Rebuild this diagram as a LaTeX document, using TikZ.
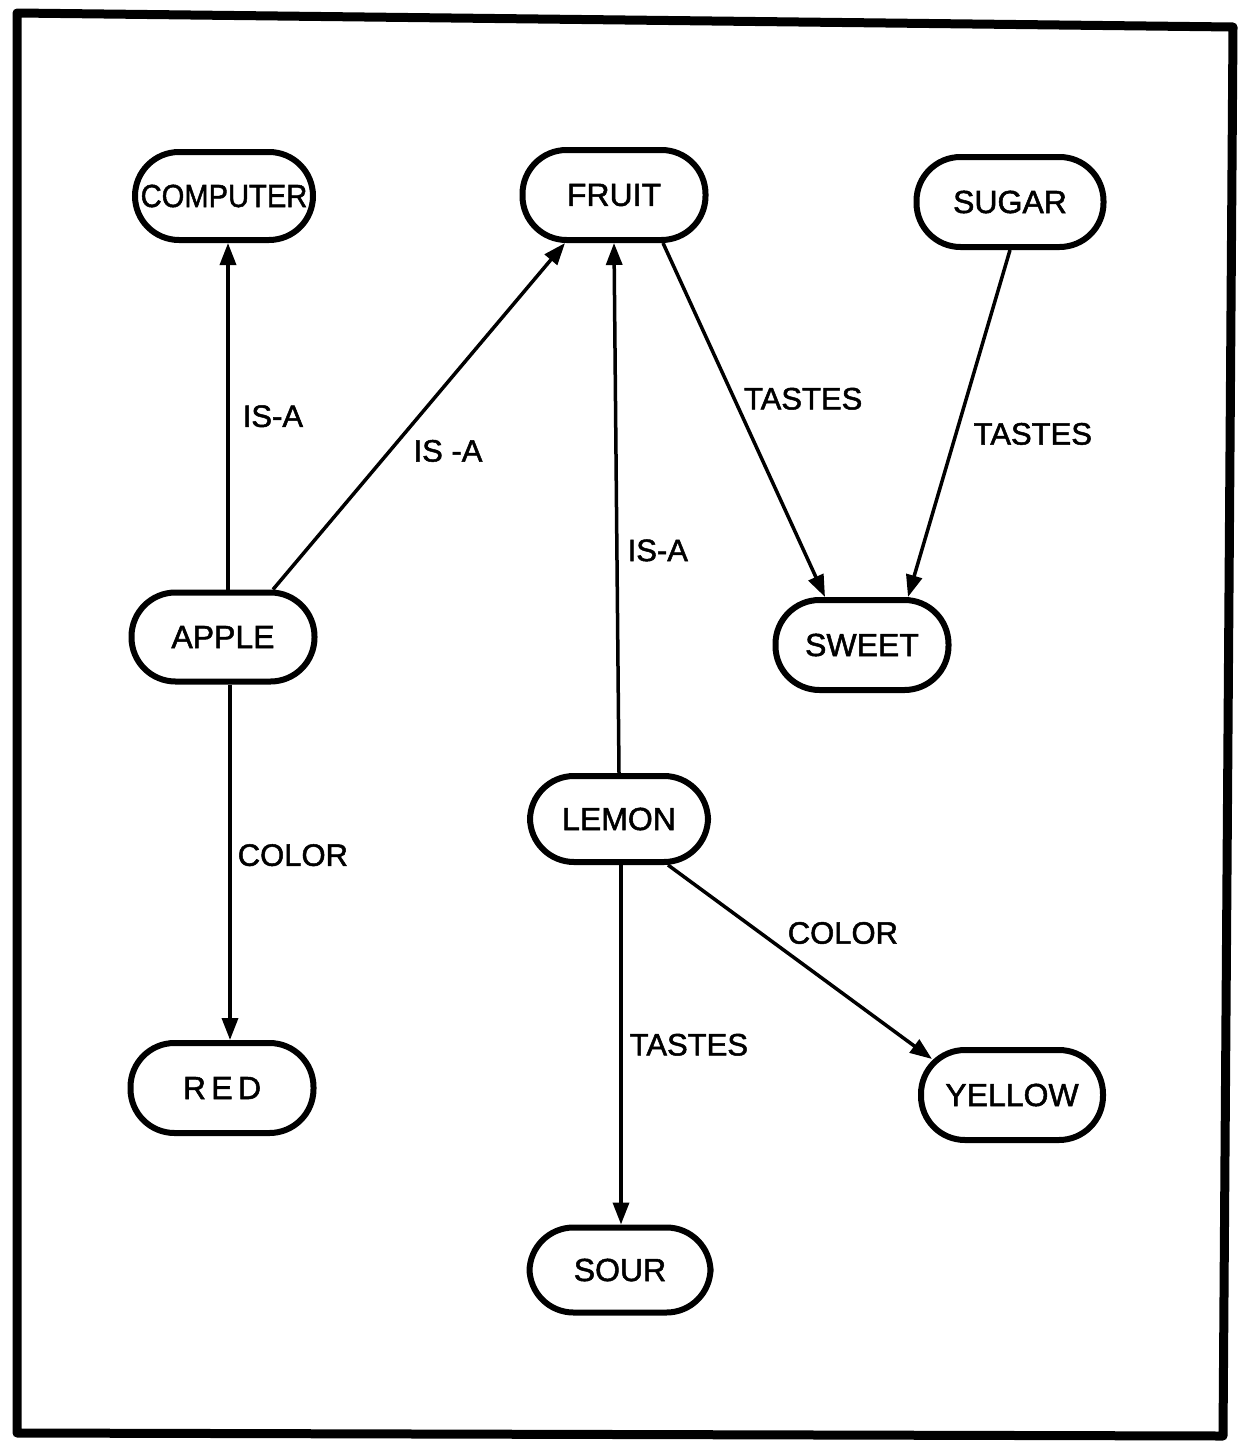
\documentclass[tikz,border=0pt]{standalone}
\usepackage{fontspec}
\setmainfont{Liberation Sans}
\newfontfamily\letterfont{Liberation Sans}[FakeBold=1.6]
\usetikzlibrary{arrows.meta}
\begin{document}
\begin{tikzpicture}[x=1pt,y=-1pt,
  concept/.style={draw, line width=6pt, rounded corners=44pt, minimum height=88pt,
    inner sep=0pt, font=\letterfont\fontsize{32}{38}\selectfont},
  rel/.style={line width=3.5pt, -{Triangle[length=22pt,width=16pt]}},
  lbl/.style={inner sep=0pt, font=\letterfont\fontsize{31}{36}\selectfont}]
\useasboundingbox (0,0) rectangle (1238,1448);
\draw[line width=9pt, line join=round] (17,13) -- (1233,27) -- (1223,1436) -- (17,1433) -- cycle;

\node[concept, minimum width=178pt] (comp) at (224,196) {\scalebox{0.91}[1]{COMPUTER}};
\node[concept, minimum width=183pt, minimum height=90pt] (fruit) at (614,195) {FRUIT};
\node[concept, minimum width=187pt, minimum height=90pt] (sugar) at (1010,202) {SUGAR};
\node[concept, minimum width=183pt, minimum height=89pt] (apple) at (223,637) {APPLE};
\node[concept, minimum width=173pt, minimum height=90pt] (sweet) at (862,645) {SWEET};
\node[concept, minimum width=178pt, minimum height=86pt] (lemon) at (619,819) {LEMON};
\node[concept, minimum width=183pt, minimum height=90pt] (red) at (222,1088) {R\,E\,D};
\node[concept, minimum width=182pt, minimum height=90pt] (yellow) at (1012,1095) {YELLOW};
\node[concept, minimum width=181pt, minimum height=85pt] (sour) at (620,1270) {SOUR};

\draw[rel] ([xshift=5pt]apple.north) -- ([xshift=4pt]comp.south)
  node[lbl, pos=.5, anchor=west, xshift=13pt] {IS-A};
\draw[rel] ([xshift=50pt]apple.north) -- ([xshift=-49pt]fruit.south)
  node[lbl, pos=.4, anchor=west, xshift=22pt] {IS -A};
\draw[rel] (lemon.north) -- (fruit.south)
  node[lbl, pos=.42, anchor=west, xshift=9pt] {IS-A};
\draw[rel] ([xshift=49pt]fruit.south) -- ([xshift=-37pt]sweet.north)
  node[lbl, pos=.44, anchor=west, xshift=8pt] {TASTES};
\draw[rel] (sugar.south) -- ([xshift=46pt]sweet.north)
  node[lbl, pos=.53, anchor=west, xshift=16pt] {TASTES};
\draw[rel] ([xshift=7pt]apple.south) -- ([xshift=8pt]red.north)
  node[lbl, pos=.48, anchor=west, xshift=6pt] {COLOR};
\draw[rel] ([xshift=2pt]lemon.south) -- ([xshift=1pt]sour.north)
  node[lbl, pos=.5, anchor=west, xshift=7pt] {TASTES};
\draw[rel] ([xshift=49pt]lemon.south) -- ([xshift=-80pt,yshift=-12pt]yellow.north)
  node[lbl, pos=.447, anchor=south west, yshift=6pt] {COLOR};
\end{tikzpicture}
\end{document}
